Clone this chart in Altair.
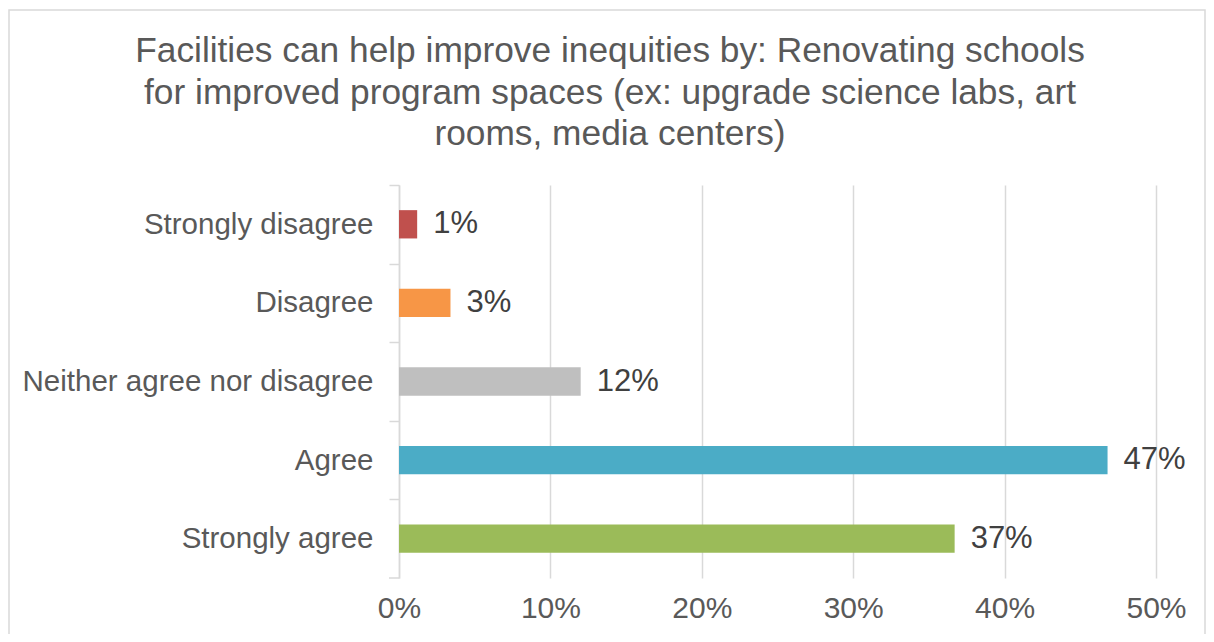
import altair as alt
import pandas as pd

categories = ["Strongly disagree", "Disagree", "Neither agree nor disagree", "Agree", "Strongly agree"]
values = [0.012, 0.034, 0.12, 0.468, 0.367]
colors = ["#C0504D", "#F79646", "#BFBFBF", "#4BACC6", "#9BBB59"]
title_lines = [
    "Facilities can help improve inequities by: Renovating schools",
    "for improved program spaces (ex: upgrade science labs, art",
    "rooms, media centers)",
]

df = pd.DataFrame({"cat": categories, "val": values})
title_df = pd.DataFrame({"t": ["\n".join(title_lines)]})
FONT = "Liberation Sans"
W, H = 757, 393
STEP = H / len(categories)

y_enc = alt.Y("cat:N", sort=categories,
              scale=alt.Scale(paddingInner=0.64, paddingOuter=0.32),
              axis=alt.Axis(title=None, labelFontSize=29.5, labelColor="#595959", labelFont=FONT,
                            labelPadding=16, tickSize=10, tickColor="#D9D9D9", tickWidth=1.5,
                            domainColor="#D9D9D9", domainWidth=1.5,
                            tickOffset=-STEP / 2, labelOffset=STEP / 2,
                            labelLimit=400))
x_enc = alt.X("val:Q", scale=alt.Scale(domain=[0, 0.5]),
              axis=alt.Axis(title=None, format=".0%", values=[0, 0.1, 0.2, 0.3, 0.4, 0.5],
                            labelFontSize=30, labelColor="#595959", labelFont=FONT,
                            labelFlush=False, labelOverlap=False,
                            grid=True, gridColor="#D9D9D9", gridWidth=1.5, domain=False,
                            ticks=False, labelPadding=15))

bars = alt.Chart(df).mark_bar().encode(
    y=y_enc, x=x_enc,
    color=alt.Color("cat:N", scale=alt.Scale(domain=categories, range=colors), legend=None),
)
labels = alt.Chart(df).mark_text(align="left", baseline="middle", dx=16, fontSize=31,
                                 color="#404040", font=FONT).encode(
    y=alt.Y("cat:N", sort=categories), x="val:Q",
    text=alt.Text("val:Q", format=".0%"),
)
border = alt.Chart(title_df).mark_rect(fillOpacity=0, stroke="#D9D9D9", strokeWidth=1.5).encode(
    x=alt.value(-390), x2=alt.value(806), y=alt.value(-175), y2=alt.value(500)
)
bottom_tick = alt.Chart(title_df).mark_rule(color="#D9D9D9", strokeWidth=1.5).encode(
    x=alt.value(-10), x2=alt.value(0), y=alt.value(H)
)
title = alt.Chart(title_df).mark_text(align="center", baseline="alphabetic", fontSize=35.3,
                                      color="#595959", font=FONT, lineBreak="\n",
                                      lineHeight=41.5).encode(
    x=alt.value(211), y=alt.value(-123), text="t:N"
)

chart = alt.layer(border, bars, labels, bottom_tick, title).properties(
    width=W, height=H,
    autosize=alt.AutoSizeParams(type="none"),
    padding={"left": 391, "top": 177, "right": 50, "bottom": 56},
).configure_view(stroke=None)

chart.save("out.html", embed_options={"renderer": "svg", "actions": False})
